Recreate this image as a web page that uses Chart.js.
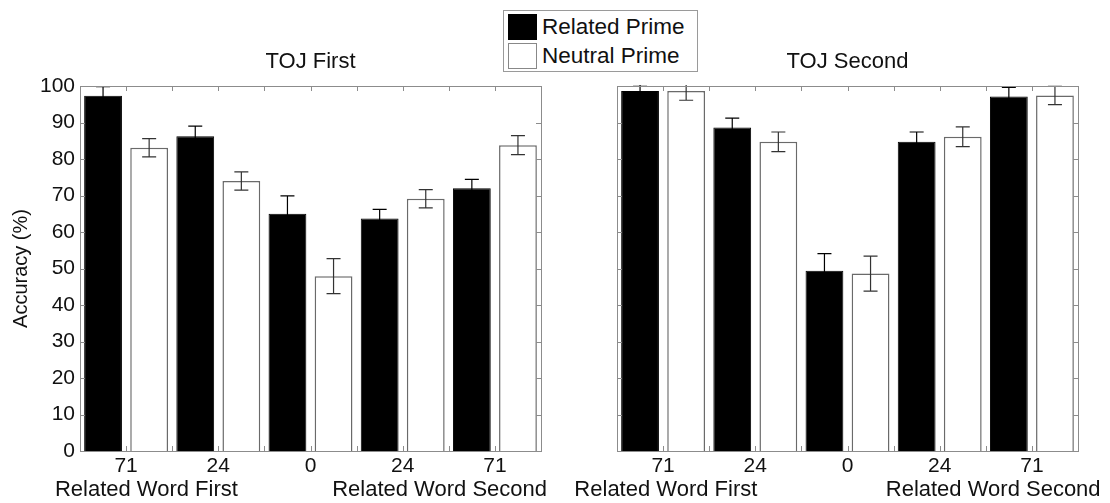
<!DOCTYPE html>
<html>
<head>
<meta charset="utf-8">
<script src="https://cdn.jsdelivr.net/npm/chart.js@4"></script>
<style>
  body { margin: 0; background: #fff; width: 1110px; height: 503px; position: relative; overflow: hidden;
         font-family: "Liberation Sans", Arial, sans-serif; }
  .panel { position: absolute; top: 0; width: 555px; height: 503px; }
  #legend { position: absolute; left: 503px; top: 10px; width: 193px; height: 60px; border: 1px solid #9a9a9a;
            background: #fff; z-index: 5; }
  #legend .row { position: absolute; left: 4px; height: 26px; display: flex; align-items: center; }
  #legend .sw { width: 29px; height: 26px; box-sizing: border-box; margin-right: 5px; }
  #legend .txt { font-size: 22.5px; color: #111; }
</style>
</head>
<body>
<div class="panel" style="left:0"><canvas id="tojFirst" width="555" height="503"></canvas></div>
<div class="panel" style="left:555px"><canvas id="tojSecond" width="555" height="503"></canvas></div>
<div id="legend">
  <div class="row" style="top:3px"><div class="sw" style="background:#000"></div><span class="txt">Related Prime</span></div>
  <div class="row" style="top:32px"><div class="sw" style="background:#fff;border:1px solid #888"></div><span class="txt">Neutral Prime</span></div>
</div>
<script>
// SOA categories (ms), same for both panels
const categories = ['71', '24', '0', '24', '71'];
const yTicks = [0, 10, 20, 30, 40, 50, 60, 70, 80, 90, 100];

// TOJ First panel
const tojFirstRelated = [97.3, 86.2, 65.0, 63.7, 72.0];
const tojFirstRelatedErr = [2.5, 2.8, 4.9, 2.5, 2.4];
const tojFirstNeutral = [83.1, 74.0, 47.9, 69.1, 83.8];
const tojFirstNeutralErr = [2.5, 2.5, 4.8, 2.5, 2.6];

// TOJ Second panel
const tojSecondRelated = [98.6, 88.6, 49.4, 84.7, 97.1];
const tojSecondRelatedErr = [1.8, 2.6, 4.7, 2.7, 2.5];
const tojSecondNeutral = [98.6, 84.7, 48.6, 86.1, 97.4];
const tojSecondNeutralErr = [2.5, 2.7, 4.8, 2.7, 2.5];

const FONT = '"Liberation Sans", Arial, sans-serif';

// draws error bars, the plot frame with inward ticks, panel title and the group labels under the axis
const panelDecor = {
    id: 'panelDecor',
    afterDatasetsDraw(chart, args, opts) {
        const ctx = chart.ctx;
        const area = chart.chartArea;
        const x = chart.scales.x;
        const y = chart.scales.y;

        // error bars
        ctx.save();
        ctx.beginPath();
        ctx.rect(area.left, area.top - 1, area.right - area.left, area.bottom - area.top + 2);
        ctx.clip();
        chart.data.datasets.forEach((ds, i) => {
            const meta = chart.getDatasetMeta(i);
            ctx.strokeStyle = ds.errorColor;
            ctx.lineWidth = 1.2;
            meta.data.forEach((bar, j) => {
                const top = y.getPixelForValue(ds.data[j] + ds.errors[j]);
                const bot = y.getPixelForValue(ds.data[j] - ds.errors[j]);
                ctx.beginPath();
                ctx.moveTo(bar.x, top); ctx.lineTo(bar.x, bot);
                ctx.moveTo(bar.x - 7, top); ctx.lineTo(bar.x + 7, top);
                ctx.moveTo(bar.x - 7, bot); ctx.lineTo(bar.x + 7, bot);
                ctx.stroke();
            });
        });
        ctx.restore();

        // frame and inward ticks
        ctx.save();
        ctx.strokeStyle = '#8c8c8c';
        ctx.lineWidth = 1;
        ctx.strokeRect(area.left + 0.5, area.top + 0.5, area.right - area.left, area.bottom - area.top);
        ctx.beginPath();
        yTicks.forEach(v => {
            const py = Math.round(y.getPixelForValue(v)) + 0.5;
            ctx.moveTo(area.left, py); ctx.lineTo(area.left + 5, py);
            ctx.moveTo(area.right, py); ctx.lineTo(area.right - 5, py);
        });
        const half = (area.right - area.left) / categories.length / 2;
        for (let k = 1; k < categories.length * 2; k++) {
            const px = Math.round(area.left + k * half) + 0.5;
            ctx.moveTo(px, area.top); ctx.lineTo(px, area.top + 5);
            ctx.moveTo(px, area.bottom); ctx.lineTo(px, area.bottom - 5);
        }
        ctx.stroke();
        ctx.restore();

        // title and group labels
        ctx.save();
        ctx.fillStyle = '#111';
        ctx.textAlign = 'center';
        ctx.textBaseline = 'middle';
        ctx.font = '22px ' + FONT;
        ctx.fillText(opts.title, (area.left + area.right) / 2, 62);
        ctx.font = '22px ' + FONT;
        opts.groups.forEach(g => {
            const i0 = Math.floor(g.at);
            const p0 = x.getPixelForValue(i0);
            const p1 = x.getPixelForValue(Math.min(i0 + 1, categories.length - 1));
            const step = (p1 - p0) || (half * 2);
            ctx.fillText(g.text, p0 + (g.at - i0) * step, 490);
        });
        ctx.restore();
    }
};

function makePanel(id, related, relatedErr, neutral, neutralErr, title, groups, showY, padRight, yWidth) {
    const ctx = document.getElementById(id).getContext('2d');
    return new Chart(ctx, {
        type: 'bar',
        data: {
            labels: categories,
            datasets: [{
                label: 'Related Prime',
                data: related,
                errors: relatedErr,
                errorColor: '#000',
                backgroundColor: '#000',
                borderColor: '#000',
                borderWidth: 1
            }, {
                label: 'Neutral Prime',
                data: neutral,
                errors: neutralErr,
                errorColor: '#333',
                backgroundColor: '#fff',
                borderColor: '#6a6a6a',
                borderWidth: 1.5
            }]
        },
        options: {
            responsive: false,
            animation: false,
            devicePixelRatio: 1,
            layout: { padding: { top: 86, right: padRight, left: 0, bottom: 0 } },
            datasets: { bar: { categoryPercentage: 1.0, barPercentage: 0.82 } },
            plugins: {
                legend: { display: false },
                tooltip: { enabled: false },
                panelDecor: { title: title, groups: groups }
            },
            scales: {
                x: {
                    grid: { display: false, drawTicks: false },
                    border: { display: false },
                    ticks: { color: '#111', font: { family: FONT, size: 21 }, padding: 3, maxRotation: 0 },
                    afterFit: s => { s.height = 52; }
                },
                y: {
                    min: 0,
                    max: 100,
                    grid: { display: false, drawTicks: false },
                    border: { display: false },
                    ticks: { display: showY, stepSize: 10, color: '#111', font: { family: FONT, size: 21 }, padding: 5 },
                    title: { display: showY, text: 'Accuracy (%)', color: '#111', font: { family: FONT, size: 20 }, padding: { top: 9, bottom: 2 } },
                    afterFit: s => { s.width = yWidth; }
                }
            }
        },
        plugins: [panelDecor]
    });
}

makePanel('tojFirst', tojFirstRelated, tojFirstRelatedErr, tojFirstNeutral, tojFirstNeutralErr, 'TOJ First',
    [{ text: 'Related Word First', at: 0.22 }, { text: 'Related Word Second', at: 3.4 }], true, 14, 80);
makePanel('tojSecond', tojSecondRelated, tojSecondRelatedErr, tojSecondNeutral, tojSecondNeutralErr, 'TOJ Second',
    [{ text: 'Related Word First', at: 0.03 }, { text: 'Related Word Second', at: 3.58 }], false, 32, 62);
</script>
</body>
</html>
